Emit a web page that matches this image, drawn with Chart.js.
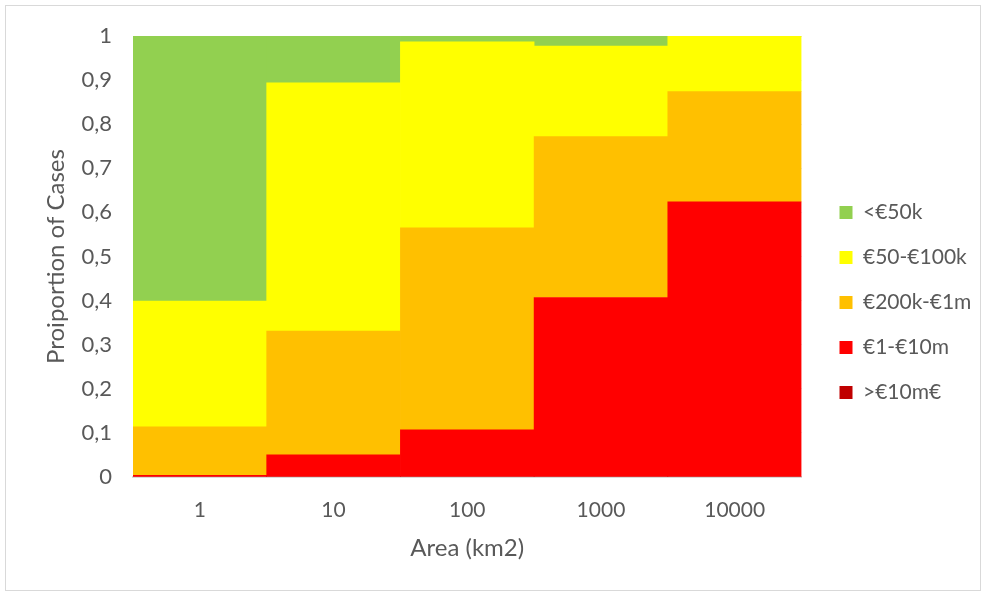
<!DOCTYPE html>
<html>
<head>
<meta charset="utf-8">
<script src="https://cdn.jsdelivr.net/npm/chart.js@4/dist/chart.umd.min.js"></script>
<style>
  html, body { margin: 0; padding: 0; background: #fff; }
  #frame { position: absolute; left: 5px; top: 5px; width: 974px; height: 584px; border: 1px solid #d9d9d9; }
  #wrap { position: absolute; left: 0; top: 0; width: 985px; height: 593px; }
</style>
</head>
<body>
<div id="frame"></div>
<div id="wrap"><canvas id="chart" width="985" height="593"></canvas></div>
<script>
// area classes (km2)
const areas = ['1', '10', '100', '1000', '10000']

// proportion of cases per damage class, bottom of stack first
const over10m   = [0, 0, 0, 0, 0]
const m1to10    = [0.004, 0.05, 0.107, 0.407, 0.624]
const k200to1m  = [0.11, 0.281, 0.458, 0.365, 0.25]
const k50to100  = [0.285, 0.563, 0.422, 0.205, 0.126]
const under50k  = [0.601, 0.106, 0.013, 0.023, 0]

const seriesNames = ['>€10m€', '€1-€10m', '€200k-€1m', '€50-€100k', '<€50k']
const seriesColors = ['#C00000', '#FF0000', '#FFC000', '#FFFF00', '#92D050']
const seriesData = [over10m, m1to10, k200to1m, k50to100, under50k]

const yTicks = [0, 0.1, 0.2, 0.3, 0.4, 0.5, 0.6, 0.7, 0.8, 0.9, 1]

const textColor = '#595959'
const font = 'Lato, "Open Sans", sans-serif'

const datasets = seriesNames.map((name, i) => ({
  label: name,
  data: seriesData[i],
  backgroundColor: seriesColors[i],
  borderWidth: 0,
  barPercentage: 1,
  categoryPercentage: 1,
}))

new Chart(document.getElementById('chart'), {
  type: 'bar',
  data: { labels: areas, datasets: datasets },
  options: {
    responsive: false,
    animation: false,
    layout: { padding: { left: 38, right: 14, top: 36, bottom: 30 } },
    plugins: {
      tooltip: { enabled: false },
      legend: {
        position: 'right',
        align: 'start',
        reverse: true,
        // empty title only pushes the items down to the middle
        title: { display: true, text: ' ', font: { size: 10 }, padding: { top: 130, bottom: 0 } },
        labels: {
          boxWidth: 13,
          boxHeight: 13,
          padding: 24,
          color: textColor,
          font: { family: font, size: 21 },
        },
      },
    },
    scales: {
      x: {
        stacked: true,
        grid: { display: false, drawTicks: false },
        border: { display: true, color: '#d9d9d9', width: 2 },
        ticks: { color: textColor, padding: 21, font: { family: font, size: 21 } },
        title: { display: true, text: 'Area (km2)', color: textColor, font: { family: font, size: 24 }, padding: { top: 4, bottom: 0 } },
        afterFit: (s) => { s.height = 593 - 477 - 30 },
      },
      y: {
        stacked: true,
        min: 0,
        max: 1,
        afterBuildTicks: (s) => { s.ticks = yTicks.map((v) => ({ value: v })) },
        grid: { color: '#d9d9d9', drawTicks: false },
        border: { display: false },
        ticks: {
          color: textColor,
          padding: 21,
          font: { family: font, size: 22 },
          callback: (v) => String(Math.round(v * 10) / 10).replace('.', ','),
        },
        title: { display: true, text: 'Proiportion of Cases', color: textColor, font: { family: font, size: 24 }, padding: { top: 4, bottom: 4 } },
        afterFit: (s) => { s.width = 133 - 38 },
      },
      gap: {
        type: 'linear',
        position: 'right',
        display: true,
        grid: { display: false },
        border: { display: false },
        ticks: { display: false },
        afterFit: (s) => { s.width = 14 },
      },
    },
  },
})
</script>
</body>
</html>
